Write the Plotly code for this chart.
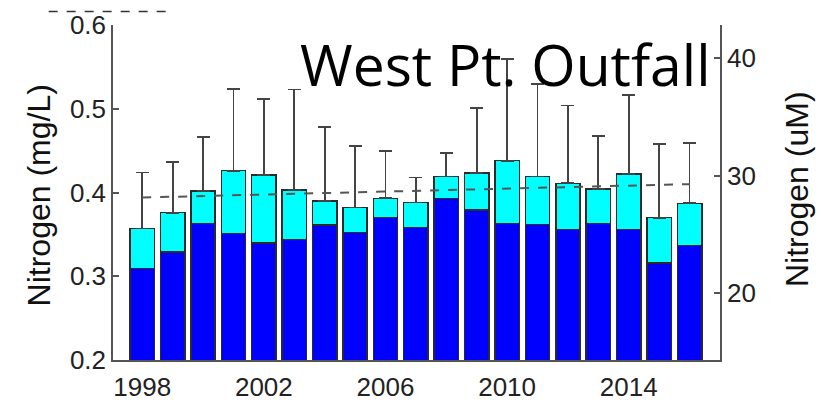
import plotly.graph_objects as go

# Annual means at West Point outfall (mg/L nitrogen)
years = list(range(1998, 2017))
inorganic_n = [0.309, 0.329, 0.363, 0.351, 0.340, 0.344, 0.361, 0.352, 0.370, 0.358,
               0.393, 0.379, 0.363, 0.362, 0.356, 0.363, 0.356, 0.316, 0.337]
total_n = [0.357, 0.376, 0.402, 0.426, 0.421, 0.403, 0.390, 0.382, 0.393, 0.388,
           0.419, 0.423, 0.438, 0.419, 0.411, 0.404, 0.422, 0.370, 0.387]
total_n_sd = [0.067, 0.060, 0.064, 0.098, 0.091, 0.120, 0.088, 0.074, 0.057, 0.030,
              0.028, 0.078, 0.121, 0.111, 0.093, 0.063, 0.094, 0.088, 0.072]
organic_n = [round(t - i, 3) for t, i in zip(total_n, inorganic_n)]

# Linear trend of total nitrogen over the record
trend_years = [1998, 2016]
trend_values = [0.394, 0.410]

MG_TO_UM = 1000 / 14.007
y_range = [0.2, 0.6]

axis_color = "#555555"
edge = dict(color="#2a2a2a", width=1.5)
tick_font = dict(family="Liberation Sans, Arial, sans-serif", size=26, color="#222222")
label_font = dict(family="Liberation Sans, Arial, sans-serif", size=32, color="#111111")

fig = go.Figure()
fig.add_trace(go.Bar(x=years, y=inorganic_n, width=0.8,
                     marker=dict(color="#0000FF", line=edge), showlegend=False))
fig.add_trace(go.Bar(x=years, y=organic_n, width=0.8,
                     marker=dict(color="#00FFFF", line=edge), showlegend=False,
                     error_y=dict(type="data", symmetric=False, array=total_n_sd,
                                  arrayminus=[0] * len(years), color="#444444",
                                  thickness=1.8, width=6.5)))
fig.add_trace(go.Scatter(x=trend_years, y=trend_values, mode="lines",
                         line=dict(color="#555555", width=2, dash="dash"),
                         showlegend=False))
# invisible trace so the µM axis is drawn
fig.add_trace(go.Scatter(x=[years[0]], y=[y_range[0] * MG_TO_UM], yaxis="y2",
                         mode="markers", marker=dict(opacity=0), showlegend=False,
                         hoverinfo="skip"))

fig.update_layout(
    width=821, height=407,
    margin=dict(l=112.5, r=101, t=25, b=47),
    paper_bgcolor="white", plot_bgcolor="white",
    barmode="stack",
    xaxis=dict(range=[1997.04, 2017.0], tickvals=[1998, 2002, 2006, 2010, 2014],
               ticks="", showgrid=False, zeroline=False, showline=True, automargin=False,
               linecolor=axis_color, linewidth=1.5, tickfont=tick_font, ticklabelstandoff=3),
    yaxis=dict(range=y_range, tickvals=[0.2, 0.3, 0.4, 0.5, 0.6],
               ticktext=["0.2", "0.3", "0.4", "0.5", "0.6"], automargin=False,
               ticks="inside", ticklen=6, tickwidth=1.5, tickcolor=axis_color,
               showgrid=False, zeroline=False, showline=True,
               linecolor=axis_color, linewidth=1.5, tickfont=tick_font),
    yaxis2=dict(range=[y_range[0] * MG_TO_UM, y_range[1] * MG_TO_UM],
                tickvals=[20, 30, 40], overlaying="y", side="right", automargin=False,
                ticks="inside", ticklen=6, tickwidth=1.5, tickcolor=axis_color,
                showgrid=False, zeroline=False, showline=True,
                linecolor=axis_color, linewidth=1.5, tickfont=tick_font),
    annotations=[
        dict(text="West Pt. Outfall", xref="paper", yref="paper",
             x=0.9885, y=1.005, xanchor="right", yanchor="top", showarrow=False,
             font=dict(family="Open Sans, sans-serif", size=57, color="black")),
        dict(text="Nitrogen (mg/L)", xref="paper", yref="paper", x=-0.1226, y=0.49,
             xanchor="center", yanchor="middle", textangle=-90, showarrow=False,
             font=label_font),
        dict(text="Nitrogen (uM)", xref="paper", yref="paper", x=1.1267, y=0.51,
             xanchor="center", yanchor="middle", textangle=-90, showarrow=False,
             font=label_font),
    ],
    shapes=[dict(type="line", xref="paper", yref="paper", x0=-0.106, x1=0.091,
                 y0=1.04, y1=1.04, line=dict(color="#333333", width=1.5, dash="dash"))],
)

fig.write_html("out.html")
